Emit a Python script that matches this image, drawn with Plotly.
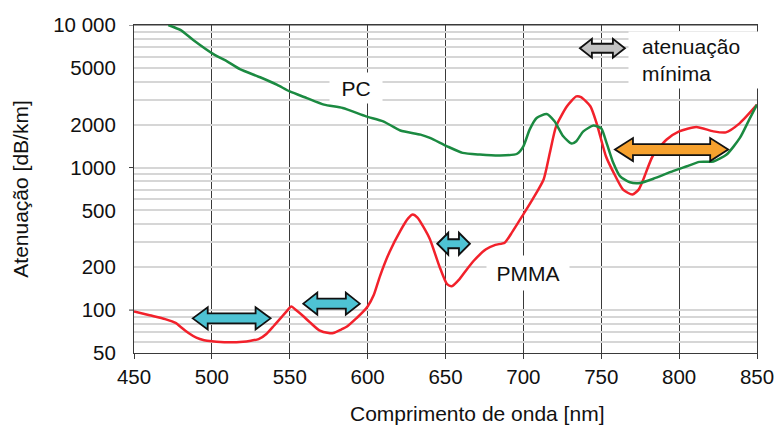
import math
import plotly.graph_objects as go

# ---- data ----
PMMA_X = [450,460,470,477,480,485,490,495,500,510,520,525,530,535,540,545,548,551,554,558,
          563,569,575,578,583,587,593,597,600,604,608,614,621,626,629,632,636,640,646,651,
          654,659,664,668,676,682,688,693,700,706,713,717,721,728,734,737,743,747,753,758,
          764,770,774,777,783,792,800,811,822,830,839,850]
PMMA_Y = [98,92,86.5,81,76,69,64,61.5,60.5,59.5,60,61,62.5,68,78,90,98,106,100,92,
          82,72,69,69,73,77,88,97,106,128,174,255,360,440,468,445,380,314,204,152,
          147,165,195,221,267,287,297,355,470,600,824,1270,1945,2690,3155,3120,2690,2050,1200,918,
          700,647,700,824,1200,1572,1794,1925,1794,1765,2050,2760]

PC_X = [472,480,488,501,510,518,531,542,550,561,572,584,599,610,621,634,640,651,661,672,
        685,696,700,704,708.5,715,720,725.6,731,734,738.5,745,750,753.4,757.7,762,768.4,775,783.4,796,
        805,813,822,830.5,839,845,850]
PC_Y = [10000,9200,7855,6250,5540,4900,4300,3800,3418,3070,2762,2615,2286,2110,1820,1702,1614,1410,1268,1234,
        1215,1250,1410,1845,2228,2377,2110,1656,1472,1530,1794,1969,1880,1490,1079,871,789,780,834,943,
        1021,1096,1104,1234,1614,2168,2762]

X_TICKS = [450, 500, 550, 600, 650, 700, 750, 800, 850]
Y_LABELS = {50: "50", 100: "100", 200: "200", 500: "500", 1000: "1000",
            2000: "2000", 5000: "5000", 10000: "10 000"}
Y_GRID = [50,60,70,80,90,100,200,300,400,500,600,700,800,900,
          1000,2000,3000,4000,5000,6000,7000,8000,9000,10000]
Y_MAJOR = [100, 1000, 10000]

# double arrows: start, end (nm), level (dB/km)
ARROW_X0 = [487.7, 558.7, 644.7, 758.8, 736.3]
ARROW_X1 = [537.7, 595.0, 665.7, 831.5, 765.2]
ARROW_Y = [87.5, 111, 292, 1337, 6870]
ARROW_FILL = ["#4EC3D4", "#4EC3D4", "#4EC3D4", "#F6A12E", "#C3C3C3"]
ARROW_HEAD = [15, 14, 11, 18, 12]   # head length, px
ARROW_H = [22, 22, 22, 23, 19]      # head height, px
ARROW_S = [10, 10, 9, 11, 9]        # shaft height, px

FONT = "Liberation Sans, Arial, sans-serif"
W, H = 775, 429
ML, MR, MT, MB = 134, 18, 25, 76
PLOT_W = W - ML - MR
PLOT_H = H - MT - MB
NM_PER_PX = (850 - 450) / PLOT_W
TICK_SIZE = 20.5
TITLE_SIZE = 21
LABEL_SIZE = 21

fig = go.Figure()
fig.add_trace(go.Scatter(x=PMMA_X, y=PMMA_Y, mode="lines", name="PMMA",
                         line=dict(color="#F2212B", width=2.5, shape="spline", smoothing=0.6)))
fig.add_trace(go.Scatter(x=PC_X, y=PC_Y, mode="lines", name="PC",
                         line=dict(color="#1B8A41", width=2.5, shape="spline", smoothing=0.6)))

shapes = []
for v in Y_MAJOR:
    shapes.append(dict(type="line", xref="paper", yref="y", x0=0, x1=1, y0=v, y1=v,
                       line=dict(color="#3a3a3a", width=1), layer="between"))
    shapes.append(dict(type="line", xref="paper", yref="y", x0=-5 / PLOT_W, x1=0, y0=v, y1=v,
                       line=dict(color="#3a3a3a", width=1), layer="above"))

for x0, x1, yv, fill, hl, hh, sh in zip(ARROW_X0, ARROW_X1, ARROW_Y, ARROW_FILL,
                                          ARROW_HEAD, ARROW_H, ARROW_S):
    h = hl * NM_PER_PX
    a, b = hh / 2, sh / 2
    path = (f"M {x0},0 L {x0+h},{a} L {x0+h},{b} L {x1-h},{b} L {x1-h},{a} L {x1},0 "
            f"L {x1-h},{-a} L {x1-h},{-b} L {x0+h},{-b} L {x0+h},{-a} Z")
    shapes.append(dict(type="path", xref="x", yref="y", ysizemode="pixel", yanchor=yv,
                       path=path, fillcolor=fill, line=dict(color="#111111", width=1.8),
                       layer="above"))

def px_to_nm(px):
    return 450 + (px - ML) * NM_PER_PX

annotations = [
    dict(x=px_to_nm(356), y=math.log10(3620), xref="x", yref="y", text="PC", showarrow=False,
         font=dict(size=LABEL_SIZE, color="#111", family=FONT), bgcolor="white", width=50, height=28),
    dict(x=px_to_nm(528), y=2.259, xref="x", yref="y", text="PMMA", showarrow=False,
         font=dict(size=LABEL_SIZE, color="#111", family=FONT), bgcolor="white", width=80, height=32),
    dict(x=px_to_nm(628), y=3.755, xref="x", yref="y", xanchor="left", text="&nbsp;",
         showarrow=False, bgcolor="white", width=134, height=54, font=dict(size=10)),
    dict(x=px_to_nm(640), y=3.755, xref="x", yref="y", xanchor="left", align="left",
         text="atenuação<br>mínima", showarrow=False,
         font=dict(size=LABEL_SIZE, color="#111", family=FONT)),
    dict(x=(477 - ML) / PLOT_W, y=-(413 - (MT + PLOT_H)) / PLOT_H, xref="paper", yref="paper",
         text="Comprimento de onda [nm]", showarrow=False, xanchor="center", yanchor="middle",
         font=dict(size=TITLE_SIZE, color="#111", family=FONT)),
]

fig.update_layout(
    width=W, height=H, margin=dict(l=ML, r=MR, t=MT, b=MB),
    paper_bgcolor="white", plot_bgcolor="white", showlegend=False,
    font=dict(family=FONT, color="#111"),
    shapes=shapes, annotations=annotations,
)
fig.update_xaxes(range=[450, 850], tickvals=X_TICKS, ticks="outside", ticklen=5,
                 tickcolor="#3a3a3a", showgrid=True, gridcolor="#3a3a3a", gridwidth=1,
                 showline=True, linecolor="#3a3a3a", linewidth=1, mirror=True, zeroline=False,
                 automargin=False,
                 tickfont=dict(size=TICK_SIZE, family=FONT, color="#111"), ticklabelstandoff=0)
fig.update_yaxes(type="log", range=[math.log10(50), 4], tickvals=Y_GRID,
                 ticktext=[Y_LABELS.get(v, "") for v in Y_GRID], ticks="",
                 showgrid=True, gridcolor="#d6d6d6", gridwidth=1.5,
                 showline=True, linecolor="#3a3a3a", linewidth=1, mirror=True, zeroline=False,
                 automargin=False,
                 tickfont=dict(size=TICK_SIZE, family=FONT, color="#111"), ticklabelstandoff=13,
                 title=dict(text="Atenuação [dB/km]", standoff=18,
                            font=dict(size=TITLE_SIZE, family=FONT, color="#111")))

fig.write_html("out.html", config={"displayModeBar": False},
               post_script="document.body.style.margin='0';document.body.style.overflow='hidden';")
